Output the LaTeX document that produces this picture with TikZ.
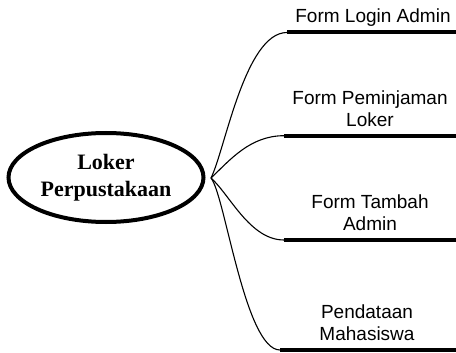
\documentclass[tikz,border=0pt]{standalone}
\usepackage{fontspec}
\setmainfont{Liberation Sans}
\newfontfamily\titlefont{Liberation Serif}
\usetikzlibrary{shapes.geometric}
\begin{document}
\begin{tikzpicture}[x=1pt,y=-1pt,
  hubnode/.style={ellipse,draw,line width=4pt,minimum width=195pt,minimum height=89pt,inner sep=0pt,
    font=\titlefont\bfseries\fontsize{22}{27}\selectfont,align=center},
  lbl/.style={anchor=south,inner sep=0pt,text depth=0pt,align=center,font=\fontsize{19}{22.5}\selectfont},
  bar/.style={line width=4pt},
  link/.style={line width=1.1pt}]
\useasboundingbox (0,0) rectangle (456,353);
\node[hubnode] (ell) at (106,177.5) {Loker\\Perpustakaan};
\coordinate (hub) at (211,178);
\coordinate (b1s) at (287,32.5); \coordinate (b1e) at (458,32.5);
\coordinate (b2s) at (284,135.7); \coordinate (b2e) at (458,135.7);
\coordinate (b3s) at (284,240); \coordinate (b3e) at (458,240);
\coordinate (b4s) at (280,350); \coordinate (b4e) at (458,350);
\draw[bar] (b1s) -- (b1e);
\draw[bar] (b2s) -- (b2e);
\draw[bar] (b3s) -- (b3e);
\draw[bar] (b4s) -- (b4e);
\node[lbl] (t1) at (373,22.7) {Form Login Admin};
\node[lbl] (t2) at (370,127) {Form Peminjaman\\Loker};
\node[lbl] (t3) at (370,231) {Form Tambah\\Admin};
\node[lbl] (t4) at (367,341) {Pendataan\\Mahasiswa};
\draw[link] (hub) .. controls (225,150) and (245,32.5) .. (b1s);
\draw[link] (hub) .. controls (230,160) and (250,135.7) .. (b2s);
\draw[link] (hub) .. controls (230,195) and (250,240) .. (b3s);
\draw[link] (hub) .. controls (225,195) and (245,350) .. (b4s);
\end{tikzpicture}
\end{document}
